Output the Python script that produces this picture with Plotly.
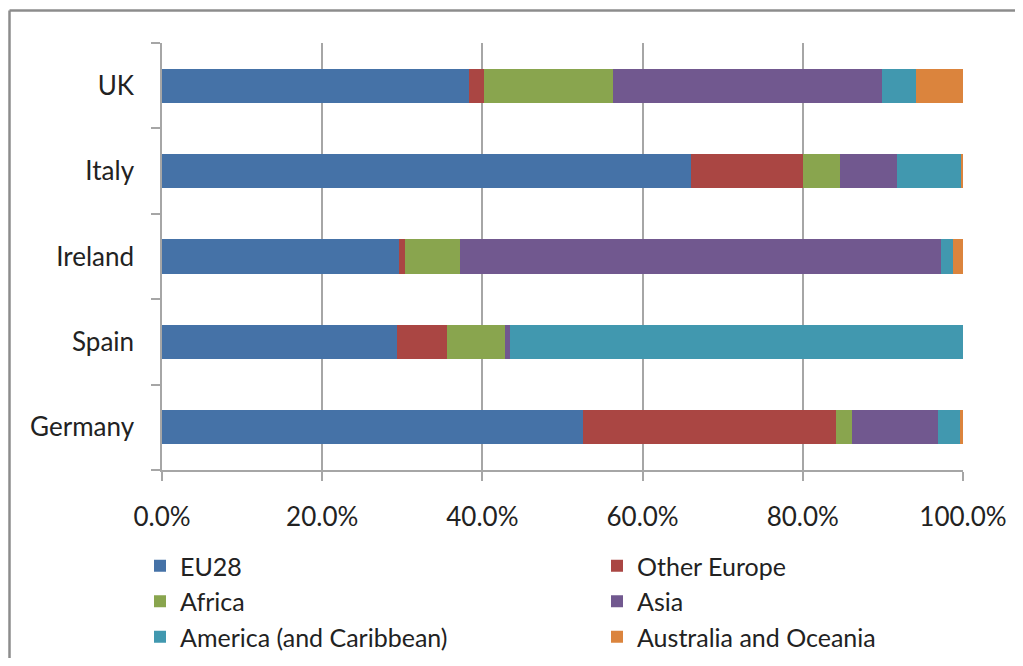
import plotly.graph_objects as go

countries = ["Germany", "Spain", "Ireland", "Italy", "UK"]
series_names = ["EU28", "Other Europe", "Africa", "Asia", "America (and Caribbean)", "Australia and Oceania"]
eu28 = [0.525, 0.293, 0.296, 0.660, 0.383]
other_europe = [0.317, 0.063, 0.007, 0.140, 0.019]
africa = [0.020, 0.072, 0.069, 0.047, 0.161]
asia = [0.107, 0.007, 0.600, 0.070, 0.336]
america = [0.027, 0.565, 0.0155, 0.080, 0.042]
australia = [0.004, 0.000, 0.0125, 0.003, 0.059]
colors = ["#4572A7", "#AA4643", "#89A54E", "#71588F", "#4198AF", "#DB843D"]
legend_column = ["legend", "legend2", "legend", "legend2", "legend", "legend2"]
tick_vals = [0, 0.2, 0.4, 0.6, 0.8, 1.0]
tick_text = ["0.0%", "20.0%", "40.0%", "60.0%", "80.0%", "100.0%"]

OFF = 8  # page body margin
W, H = 1023 - 2 * OFF, 666 - 2 * OFF
# target screen positions of the plot area
SL, SR, ST, SB = 162, 963, 43, 470
L, T = SL - OFF, ST - OFF
R, B = W - (SR - OFF), H - (SB - OFF)
pw, ph = W - L - R, H - T - B

fig = go.Figure()
for name, vals, col, lg in zip(series_names, [eu28, other_europe, africa, asia, america, australia],
                               colors, legend_column):
    fig.add_trace(go.Bar(y=countries, x=vals, name=name, orientation="h", legend=lg,
                         marker=dict(color=col, line=dict(width=0))))

def px_x(p):
    return (p - SL) / pw

def px_y(p):
    return (SB - p) / ph

font = "Lato, 'Open Sans', sans-serif"
legend_common = dict(orientation="v", xanchor="left", yanchor="top", traceorder="normal",
                     font=dict(family=font, size=25, color="#222222"),
                     itemwidth=30, tracegroupgap=0, bgcolor="rgba(0,0,0,0)",
                     borderwidth=0)
frame_line = dict(color="#8C8C8C", width=2.5)
fig.update_layout(
    width=W, height=H, barmode="stack", bargap=0.6,
    margin=dict(l=L, r=R, t=T, b=B, autoexpand=False),
    plot_bgcolor="white", paper_bgcolor="white",
    font=dict(family=font, size=26, color="#222222"),
    xaxis=dict(range=[0, 1.0], tickvals=tick_vals, ticktext=tick_text,
               showgrid=True, gridcolor="#A6A6A6", gridwidth=1.5,
               showline=True, linecolor="#A6A6A6", linewidth=1.5,
               ticks="outside", ticklen=9, tickcolor="#A6A6A6", tickwidth=1.5,
               ticklabelstandoff=14, zeroline=False, fixedrange=True),
    yaxis=dict(categoryorder="array", categoryarray=countries,
               showline=True, linecolor="#A6A6A6", linewidth=1.5,
               ticks="outside", tickson="boundaries", ticklen=9,
               tickcolor="#A6A6A6", tickwidth=1.5, showgrid=False,
               ticklabelstandoff=21, fixedrange=True),
    legend=dict(x=px_x(140), y=px_y(543), **legend_common),
    legend2=dict(x=px_x(597), y=px_y(543), **legend_common),
    showlegend=True,
    shapes=[
        dict(type="line", xref="paper", yref="paper",
             x0=px_x(9.5), x1=px_x(1040), y0=px_y(10.5), y1=px_y(10.5),
             line=frame_line, layer="below"),
        dict(type="line", xref="paper", yref="paper",
             x0=px_x(9.5), x1=px_x(9.5), y0=px_y(10.5), y1=px_y(700),
             line=frame_line, layer="below"),
    ],
)

fig.write_html("out.html")
